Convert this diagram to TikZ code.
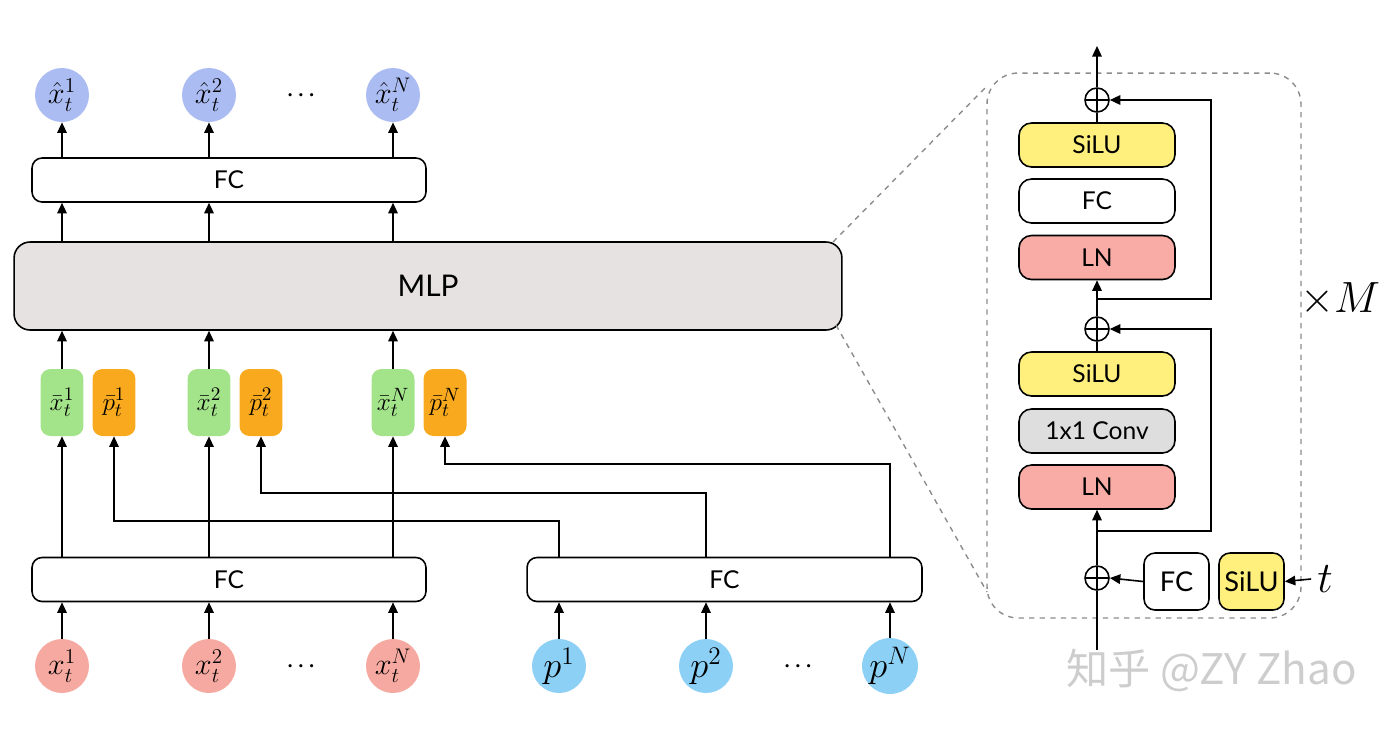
\documentclass[tikz,border=0pt]{standalone}
\usepackage{fontspec}
\setmainfont{Lato}
\newfontfamily\cjkfont{Noto Sans CJK SC}
\usetikzlibrary{arrows.meta}
\definecolor{mlpgray}{HTML}{E6E2E2}
\definecolor{tokgreen}{HTML}{A3E38A}
\definecolor{tokorange}{HTML}{F8A91E}
\definecolor{inpink}{HTML}{F6A9A0}
\definecolor{outblue}{HTML}{ABBCF2}
\definecolor{posblue}{HTML}{8DD0F6}
\definecolor{silu}{HTML}{FFF07E}
\definecolor{lnpink}{HTML}{F8ACA5}
\definecolor{convgray}{HTML}{DEDEDE}
\definecolor{dashgray}{HTML}{8C8C8C}
\definecolor{wmgray}{HTML}{CDCDCD}
\tikzset{
  arr/.style={line width=0.9pt,-{Triangle[length=6pt,width=5.4pt]}},
  ln/.style={line width=0.9pt},
  fcbox/.style={draw,line width=0.9pt,rounded corners=0.2cm,minimum width=7.88cm,minimum height=0.88cm,inner sep=0pt,font=\fontsize{14}{16}\selectfont},
  mlpbox/.style={draw,line width=0.9pt,fill=mlpgray,rounded corners=0.32cm,minimum width=16.56cm,minimum height=1.76cm,inner sep=0pt,font=\fontsize{17}{20}\selectfont},
  tok/.style={rounded corners=0.2cm,minimum width=0.86cm,minimum height=1.34cm,inner sep=0pt,font=\fontsize{15.5}{18}\selectfont},
  ball/.style={circle,minimum size=1.08cm,inner sep=0pt,font=\fontsize{17}{20}\selectfont},
  inbox/.style={draw,line width=0.9pt,rounded corners=0.25cm,minimum width=3.12cm,minimum height=0.88cm,inner sep=0pt,font=\fontsize{14}{16}\selectfont},
  smallbox/.style={draw,line width=0.9pt,rounded corners=0.22cm,minimum width=1.3cm,minimum height=1.14cm,inner sep=0pt,font=\fontsize{15.5}{18}\selectfont},
  oplus/.style={circle,draw,line width=0.9pt,minimum size=0.48cm,inner sep=0pt,
    path picture={\draw[line width=0.9pt] (path picture bounding box.north) -- (path picture bounding box.south)
      (path picture bounding box.west) -- (path picture bounding box.east);}},
  dotsn/.style={font=\fontsize{13}{15}\selectfont\boldmath},
}
\begin{document}
\begin{tikzpicture}[x=0.02cm,y=-0.02cm]
\useasboundingbox (0,0) rectangle (1382,728);

% output circles
\node[ball,fill=outblue] (xh1) at (62,95) {$\hat{x}_t^1$};
\node[ball,fill=outblue] (xh2) at (209,95) {$\hat{x}_t^2$};
\node[ball,fill=outblue] (xhN) at (393,95) {$\hat{x}_t^N$};
\node[dotsn] (dt) at (301,95) {$\cdots$};

\node[fcbox] (fcT) at (229,180) {FC};
\node[mlpbox] (mlp) at (428,286) {MLP};

% tokens
\node[tok,fill=tokgreen] (g1) at (62,402.5) {$\bar{x}_t^1$};
\node[tok,fill=tokorange] (o1) at (114,402.5) {$\bar{p}_t^1$};
\node[tok,fill=tokgreen] (g2) at (209,402.5) {$\bar{x}_t^2$};
\node[tok,fill=tokorange] (o2) at (261,402.5) {$\bar{p}_t^2$};
\node[tok,fill=tokgreen] (gN) at (393,402.5) {$\bar{x}_t^N$};
\node[tok,fill=tokorange] (oN) at (445,402.5) {$\bar{p}_t^N$};

\node[fcbox] (fcL) at (229,579.5) {FC};
\node[fcbox,minimum width=7.9cm] (fcR) at (724.5,579.5) {FC};

% input circles
\node[ball,fill=inpink] (x1) at (62,666) {$x_t^1$};
\node[ball,fill=inpink] (x2) at (209,666) {$x_t^2$};
\node[ball,fill=inpink] (xN) at (393,666) {$x_t^N$};
\node[dotsn] (db1) at (301,666) {$\cdots$};
\node[ball,fill=posblue,font=\fontsize{20}{22}\selectfont] (p1) at (559,666) {$p^1$};
\node[ball,fill=posblue,font=\fontsize{20}{22}\selectfont] (p2) at (706,666) {$p^2$};
\node[ball,fill=posblue,font=\fontsize{20}{22}\selectfont] (pN) at (890,666) {$p^N$};
\node[dotsn] (db2) at (798,666) {$\cdots$};

% arrows left part
\foreach \c in {x1,x2,xN} \draw[arr] (\c.north) -- (\c.north |- fcL.south);
\foreach \c in {p1,p2,pN} \draw[arr] (\c.north) -- (\c.north |- fcR.south);
\foreach \g in {g1,g2,gN} {
  \draw[arr] (\g |- fcL.north) -- (\g.south);
  \draw[arr] (\g.north) -- (\g.north |- mlp.south);
}
\foreach \c in {xh1,xh2,xhN} {
  \draw[arr] (\c |- mlp.north) -- (\c |- fcT.south);
  \draw[arr] (\c |- fcT.north) -- (\c.south);
}
\draw[arr] (p1 |- fcR.north) -- ++(0,-36) -| (o1.south);
\draw[arr] (p2 |- fcR.north) -- ++(0,-64) -| (o2.south);
\draw[arr] (pN |- fcR.north) -- ++(0,-93) -| (oN.south);

% right block
\node[draw=dashgray,dashed,line width=0.8pt,rounded corners=0.62cm,minimum width=6.28cm,minimum height=10.9cm,inner sep=0pt] (blk) at (1144,345.5) {};
\draw[dashgray,dashed,line width=0.8pt] (833,242) -- (987,86);
\draw[dashgray,dashed,line width=0.8pt] (836,325) -- (987,592);

\node[oplus] (pl1) at (1097,100) {};
\node[inbox,fill=silu] (s1) at (1097,145) {SiLU};
\node[inbox] (f1) at (1097,201) {FC};
\node[inbox,fill=lnpink] (l1) at (1097,257.5) {LN};
\node[oplus] (pl2) at (1097,329) {};
\node[inbox,fill=silu] (s2) at (1097,374) {SiLU};
\node[inbox,fill=convgray] (cv) at (1097,431) {1x1 Conv};
\node[inbox,fill=lnpink] (l2) at (1097,487) {LN};
\node[oplus] (pl3) at (1097,578) {};
\node[smallbox] (sf) at (1176.5,581.5) {FC};
\node[smallbox,fill=silu] (ss) at (1251.5,581.5) {SiLU};
\node[font=\fontsize{24}{26}\selectfont] (tt) at (1325,579) {$t$};
\node[font=\fontsize{24}{26}\selectfont] (rep) at (1340,299) {$\times M$};

\coordinate (outtop) at (1097,46);
\coordinate (intop) at (1097,650);
\coordinate (br1) at (1097,299);
\coordinate (br2) at (1097,531);

\draw[arr] (pl1.north) -- (outtop);
\draw[ln] (s1.north) -- (pl1.south);
\draw[arr] (pl2.north) -- (l1.south);
\draw[arr] (br1) -- (1211,299) -- (1211,100) -- (pl1.east);
\draw[ln] (s2.north) -- (pl2.south);
\draw[arr] (pl3.north) -- (l2.south);
\draw[arr] (br2) -- (1211,531) -- (1211,329) -- (pl2.east);
\draw[ln] (intop) -- (pl3.south);
\draw[arr] (sf.west) -- (pl3.east);
\draw[arr] (tt.west) -- (ss.east);

% watermark
\node[text=wmgray,font=\cjkfont\fontsize{24}{28}\selectfont,anchor=west] (wm) at (1060,670) {知乎 @ZY Zhao};
\end{tikzpicture}
\end{document}
